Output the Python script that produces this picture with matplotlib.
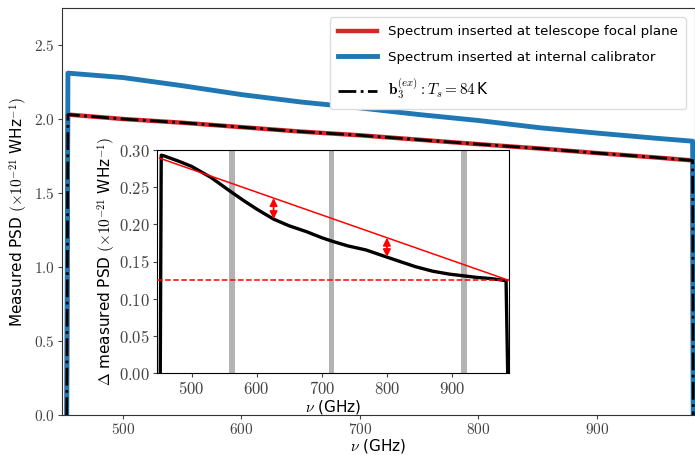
import numpy as np
import matplotlib
matplotlib.use("Agg")
import matplotlib.pyplot as plt
from matplotlib.ticker import FuncFormatter, MultipleLocator

plt.rcParams["mathtext.fontset"] = "cm"
plt.rcParams["font.family"] = "DejaVu Sans"

# Measured spectra (x1e-21 W/Hz) vs frequency (GHz)
nu_main = [452.5, 453.5, 500, 550, 600, 650, 700, 750, 800, 853, 900, 950, 981, 981.5]
psd_focal = [0.0, 2.03, 2.00, 1.975, 1.945, 1.915, 1.89, 1.86, 1.83, 1.80, 1.77, 1.74, 1.72, 0.0]
psd_calib = [0.0, 2.31, 2.28, 2.225, 2.165, 2.115, 2.075, 2.03, 1.99, 1.94, 1.905, 1.87, 1.85, 0.0]
psd_model = [0.0, 2.03, 2.00, 1.975, 1.945, 1.915, 1.89, 1.86, 1.83, 1.80, 1.77, 1.74, 1.72, 0.0]

# Difference between the two insertion points
nu_diff = [452, 453.5, 458, 480, 500, 530, 557, 580, 601, 626, 650, 677, 700, 717,
           740, 768, 798, 820, 844, 870, 896, 937, 960, 977, 983, 985.5]
psd_diff = [0.0, 0.293, 0.292, 0.285, 0.278, 0.263, 0.246, 0.232, 0.220, 0.207, 0.198, 0.190,
            0.182, 0.177, 0.171, 0.1655, 0.1565, 0.150, 0.143, 0.137, 0.133, 0.1287, 0.127,
            0.125, 0.124, 0.0]

# Straight line between the band edges and the floor level
line_nu = [451, 986]
line_psd = [0.289, 0.125]
floor_psd = 0.125

# Frequencies of the marked gaps and of the gray bands
arrow_nu = [626, 800]
band_nu = [562, 715, 918]
band_halfwidth = 4.5

fig = plt.figure(figsize=(6.95, 4.55), dpi=100)
ax = fig.add_axes([62 / 695, 40 / 455, 633 / 695, 407 / 455])

ax.plot(nu_main, psd_focal, color="#d62728", lw=3.2,
        label="Spectrum inserted at telescope focal plane")
ax.plot(nu_main, psd_calib, color="#1f77b4", lw=3.5,
        label="Spectrum inserted at internal calibrator")
ax.plot(nu_main, psd_model, color="black", lw=2, ls="-.",
        label=r"$\mathbf{b}_3^{(ex)}: T_s = 84\,$K")

ax.set_xlim(448.5, 983)
ax.set_ylim(0, 2.75)
ax.xaxis.set_major_locator(MultipleLocator(100))
ax.yaxis.set_major_locator(MultipleLocator(0.5))
ax.xaxis.set_major_formatter(FuncFormatter(lambda v, _: f"${v:.0f}$"))
ax.yaxis.set_major_formatter(FuncFormatter(lambda v, _: f"${v:.1f}$"))
ax.tick_params(labelsize=11, colors="#444444", length=3, pad=2)
for s in ax.spines.values():
    s.set_color("#333333")
ax.set_xlabel(r"$\nu$ (GHz)", fontsize=11, labelpad=0)
ax.set_ylabel(r"Measured PSD $(\times10^{-21}$ WHz$^{-1})$", fontsize=11, labelpad=3)

leg = ax.legend(loc="upper right", fontsize=9.6, handlelength=2.9,
                labelspacing=0.95, framealpha=1, borderaxespad=0.7, borderpad=0.6)
leg.get_frame().set_edgecolor("#dddddd")
leg.get_texts()[2].set_fontsize(11)

# Inset: difference spectrum
ins = fig.add_axes([157 / 695, 82 / 455, 352 / 695, 223 / 455])
for c in band_nu:
    ins.axvspan(c - band_halfwidth, c + band_halfwidth, color="#b3b3b3", lw=0)
ins.plot(nu_diff, psd_diff, color="black", lw=2.4, zorder=3)
ins.plot(line_nu, line_psd, color="red", lw=1.1, zorder=4)
ins.axhline(floor_psd, color="red", lw=1.1, ls="--", zorder=4)
for a in arrow_nu:
    lo = np.interp(a, nu_diff, psd_diff)
    hi = np.interp(a, line_nu, line_psd)
    ins.annotate("", xy=(a, hi), xytext=(a, lo),
                 arrowprops=dict(arrowstyle="<|-|>", color="red", lw=1.3,
                                 mutation_scale=11, shrinkA=0, shrinkB=0), zorder=5)

ins.set_xlim(447, 987.5)
ins.set_ylim(0, 0.30)
ins.xaxis.set_major_locator(MultipleLocator(100))
ins.yaxis.set_major_locator(MultipleLocator(0.05))
ins.xaxis.set_major_formatter(FuncFormatter(lambda v, _: f"${v:.0f}$"))
ins.yaxis.set_major_formatter(FuncFormatter(lambda v, _: f"${v:.2f}$"))
ins.tick_params(labelsize=12, colors="#444444", length=3, pad=2)
ins.set_xlabel(r"$\nu$ (GHz)", fontsize=11, labelpad=0)
ins.set_ylabel(r"$\Delta$ measured PSD $(\times10^{-21}$ WHz$^{-1})$", fontsize=11, labelpad=1)

fig.savefig("out.png", dpi=100)
